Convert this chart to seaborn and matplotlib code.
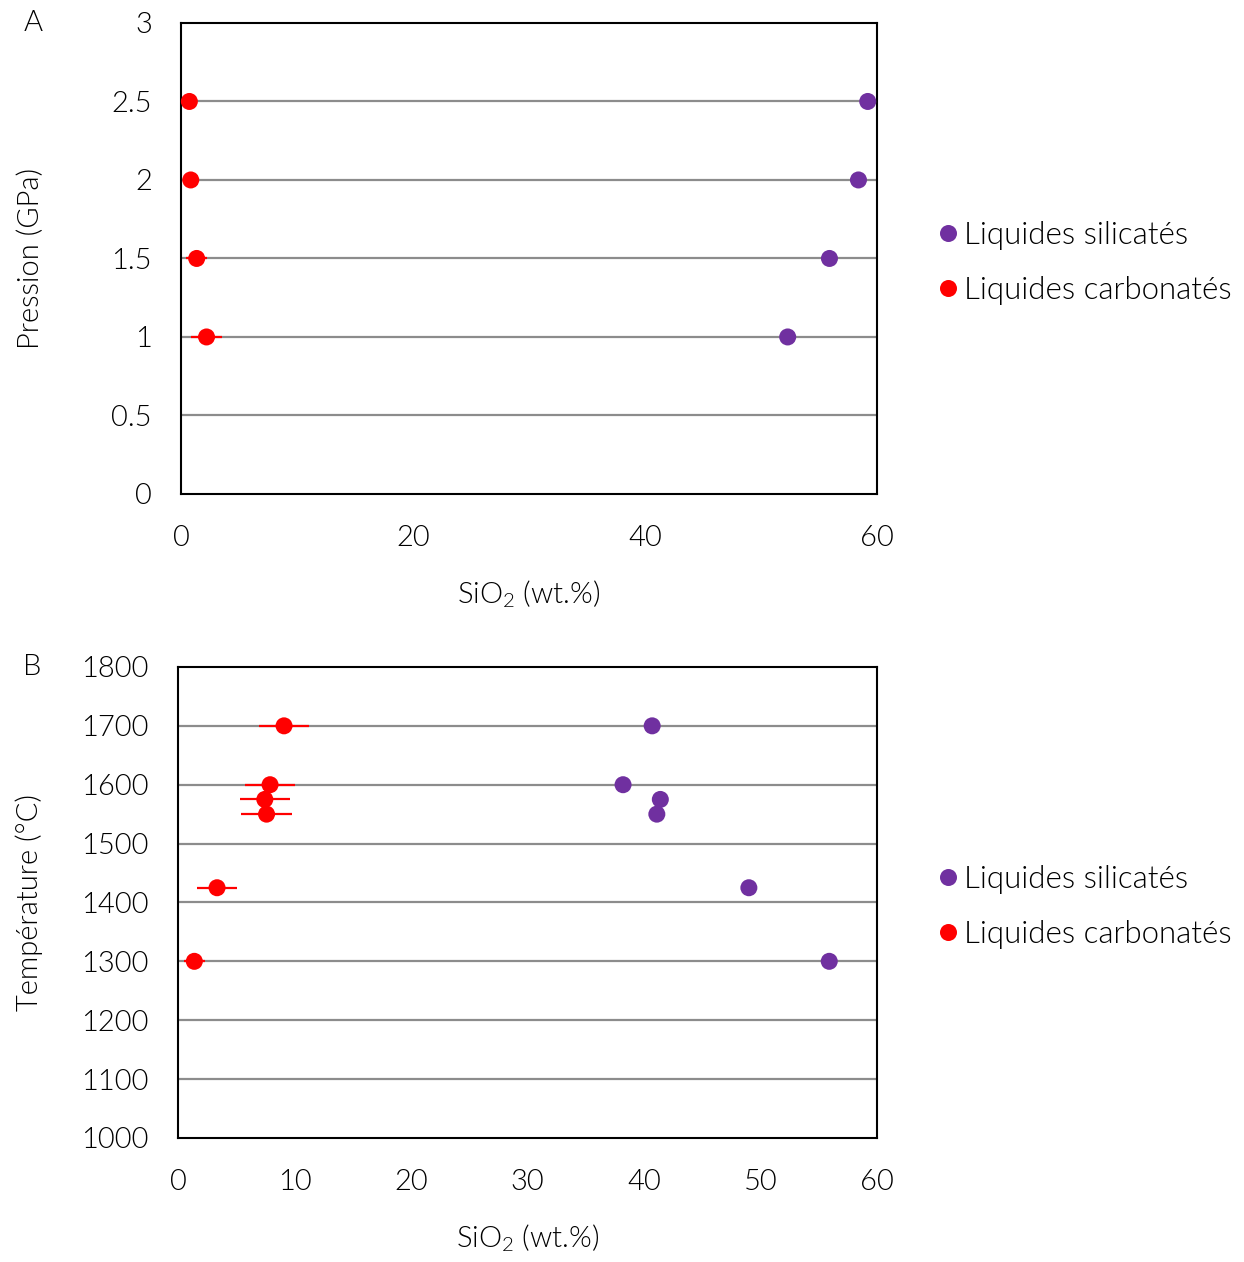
import matplotlib
matplotlib.use('Agg')
import matplotlib.pyplot as plt
import seaborn as sns
import pandas as pd

# Panel A : pression vs SiO2
p_sil = [2.5, 2.0, 1.5, 1.0]
sio2_sil_a = [59.2, 58.4, 55.9, 52.3]
p_carb = [2.5, 2.0, 1.5, 1.0]
sio2_carb_a = [0.72, 0.84, 1.35, 2.2]
err_carb_a = [0.0, 0.0, 0.9, 1.33]

# Panel B : température vs SiO2
t_sil = [1700, 1600, 1575, 1550, 1425, 1300]
sio2_sil_b = [40.7, 38.2, 41.4, 41.1, 49.0, 55.9]
t_carb = [1700, 1600, 1575, 1550, 1425, 1300]
sio2_carb_b = [9.1, 7.9, 7.45, 7.6, 3.35, 1.4]
err_carb_b = [2.15, 2.15, 2.15, 2.2, 1.7, 0.9]

lab_sil = 'Liquides silicatés'
lab_carb = 'Liquides carbonatés'
c_sil = '#7030A0'
c_carb = '#FF0000'

sns.set_style('white')
plt.rcParams['font.family'] = ['Lato', 'DejaVu Sans']
plt.rcParams['font.weight'] = 300
plt.rcParams['axes.labelweight'] = 300
plt.rcParams['font.size'] = 21
plt.rcParams['text.color'] = 'black'
plt.rcParams['axes.labelcolor'] = 'black'
plt.rcParams['xtick.color'] = 'black'
plt.rcParams['ytick.color'] = 'black'

fig = plt.figure(figsize=(12.44, 12.62), dpi=100)
ax_a = fig.add_axes([0.1455, 0.6086, 0.5595, 0.3732])
ax_b = fig.add_axes([0.1431, 0.0983, 0.5619, 0.3732])


def panel(ax, y_sil, x_sil, y_carb, x_carb, err, yticks, xticks, ylabel, letter, lx):
    df = pd.DataFrame({
        'x': x_sil + x_carb,
        'y': y_sil + y_carb,
        'groupe': [lab_sil] * len(x_sil) + [lab_carb] * len(x_carb),
    })
    for yv in yticks[1:-1]:
        ax.axhline(yv, color='#8c8c8c', lw=1.6, zorder=0)
    ax.errorbar(x_carb, y_carb, xerr=err, fmt='none', ecolor=c_carb,
                elinewidth=1.6, capsize=0, zorder=2)
    sns.scatterplot(data=df, x='x', y='y', hue='groupe',
                    palette={lab_sil: c_sil, lab_carb: c_carb},
                    s=150, edgecolor='none', ax=ax, zorder=3, clip_on=False)
    ax.set_xlim(xticks[0], xticks[-1])
    ax.set_ylim(yticks[0], yticks[-1])
    ax.set_xticks(xticks)
    ax.set_yticks(yticks)
    ax.set_yticklabels([f'{v:g}' for v in yticks])
    ax.tick_params(direction='in', length=8, width=1.5, color='black',
                   labelsize=21)
    ax.tick_params(axis='y', pad=21)
    ax.tick_params(axis='x', pad=22)
    for sp in ax.spines.values():
        sp.set_color('black')
        sp.set_linewidth(1.5)
    ax.set_xlabel(r'SiO$\mathregular{_2}$ (wt.%)', fontsize=21, labelpad=20)
    ax.set_ylabel(ylabel, fontsize=21)
    ax.yaxis.set_label_coords(lx, 0.5)
    ax.text(lx - 0.015, 1.0, letter, transform=ax.transAxes, fontsize=21,
            ha='center', va='center')
    ax.legend(loc='center left', bbox_to_anchor=(1.039, 0.491),
              frameon=False, fontsize=22.5, handletextpad=0.0,
              markerscale=1.0, labelspacing=0.83, handlelength=1.0)


panel(ax_a, p_sil, sio2_sil_a, p_carb, sio2_carb_a, err_carb_a,
      [0, 0.5, 1, 1.5, 2, 2.5, 3], [0, 20, 40, 60], 'Pression (GPa)', 'A', -0.197)
panel(ax_b, t_sil, sio2_sil_b, t_carb, sio2_carb_b, err_carb_b,
      [1000, 1100, 1200, 1300, 1400, 1500, 1600, 1700, 1800],
      [0, 10, 20, 30, 40, 50, 60], 'Température (°C)', 'B', -0.193)

fig.savefig('out.png', dpi=100)
